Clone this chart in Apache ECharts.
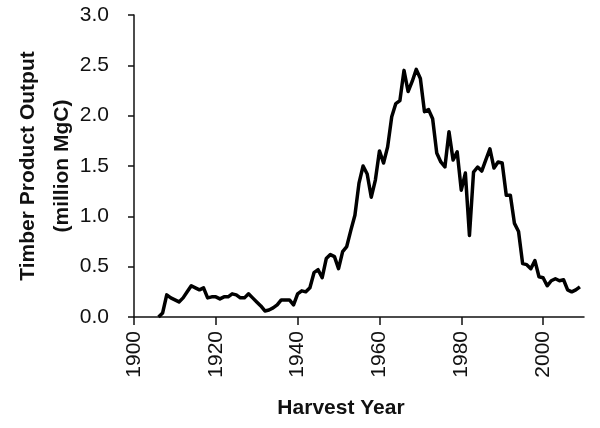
<!DOCTYPE html>
<html><head><meta charset="utf-8">
<script src="https://cdn.jsdelivr.net/npm/echarts@6/dist/echarts.min.js"></script>
<style>html,body{margin:0;padding:0;background:#fff}#c{width:600px;height:428px}</style>
</head><body><div id="c"></div>
<script>
const years = [];
for (let y = 1906; y <= 2009; y++) years.push(y);
const output = [
 0.00,0.04,0.22,0.19,0.17,0.15,0.19,0.25,0.31,0.29, // 1906-1915
 0.27,0.29,0.19,0.20,0.20,0.18,0.20,0.20,0.23,0.22, // 1916-1925
 0.19,0.19,0.23,0.19,0.15,0.11,0.06,0.07,0.09,0.12, // 1926-1935
 0.17,0.17,0.17,0.12,0.23,0.26,0.25,0.29,0.44,0.47, // 1936-1945
 0.39,0.58,0.62,0.60,0.48,0.65,0.70,0.86,1.01,1.33, // 1946-1955
 1.50,1.42,1.19,1.36,1.65,1.53,1.69,1.99,2.12,2.15, // 1956-1965
 2.45,2.24,2.34,2.46,2.37,2.04,2.06,1.97,1.63,1.54, // 1966-1975
 1.49,1.84,1.56,1.64,1.26,1.43,0.81,1.44,1.49,1.45, // 1976-1985
 1.56,1.67,1.48,1.54,1.53,1.21,1.21,0.93,0.85,0.53, // 1986-1995
 0.52,0.48,0.56,0.40,0.39,0.31,0.36,0.38,0.36,0.37, // 1996-2005
 0.27,0.25,0.27,0.30                                // 2006-2009
];
const xTicks = [1900, 1920, 1940, 1960, 1980, 2000];
const yTicks = [0, 0.5, 1.0, 1.5, 2.0, 2.5, 3.0];
const xTitle = 'Harvest Year';
const yTitle = 'Timber Product Output\n(million MgC)';

const font = 'Liberation Sans, Arial, sans-serif';
const chart = echarts.init(document.getElementById('c'), null, {renderer: 'canvas'});
chart.setOption({
  animation: false,
  backgroundColor: '#fff',
  grid: {left: 134, right: 16, top: 15, bottom: 111, containLabel: false, outerBoundsMode: 'none'},
  xAxis: {
    type: 'value', min: 1900, max: 2010, interval: 20,
    name: xTitle, nameLocation: 'middle', nameGap: 81,
    nameTextStyle: {fontFamily: font, fontWeight: 'bold', fontSize: 21, color: '#111', padding: [0, 36, 0, 0]},
    axisLine: {show: true, onZero: false, lineStyle: {color: '#111', width: 1.5}},
    axisTick: {show: true, length: 8, lineStyle: {color: '#111', width: 1.5}, customValues: xTicks},
    axisLabel: {rotate: 90, margin: 14, fontFamily: font, fontSize: 21, color: '#111', customValues: xTicks,
      formatter: v => String(v)},
    splitLine: {show: false}
  },
  yAxis: {
    type: 'value', min: 0, max: 3, interval: 0.5,
    name: yTitle, nameLocation: 'middle', nameGap: 55, nameMoveOverlap: false,
    nameTextStyle: {fontFamily: font, fontWeight: 'bold', fontSize: 21, color: '#111', lineHeight: 34},
    axisLine: {show: true, lineStyle: {color: '#111', width: 1.5}},
    axisTick: {show: true, length: 6, lineStyle: {color: '#111', width: 1.5}, customValues: yTicks},
    axisLabel: {margin: 25, fontFamily: font, fontSize: 21, color: '#111', customValues: yTicks,
      formatter: v => v.toFixed(1)},
    splitLine: {show: false}
  },
  series: [{
    type: 'line',
    data: years.map((y, i) => [y, output[i]]),
    showSymbol: false,
    lineStyle: {color: '#000', width: 3.5, join: 'round'},
    itemStyle: {color: '#000'}
  }]
});
</script></body></html>
